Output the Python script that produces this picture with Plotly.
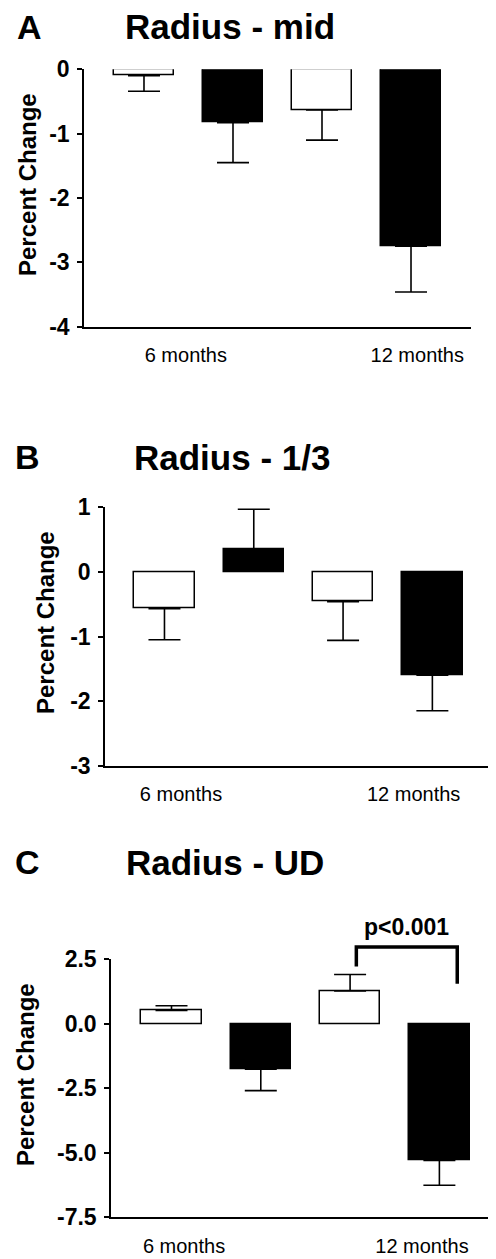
import plotly.graph_objects as go

# ---------------- data ----------------
categories = ["6 months", "12 months"]
panels = ["A", "B", "C"]
titles = ["Radius - mid", "Radius - 1/3", "Radius - UD"]

white_mid = [-0.10, -0.63]
white_mid_err = [0.24, 0.47]
black_mid = [-0.83, -2.75]
black_mid_err = [0.62, 0.71]

white_third = [-0.57, -0.46]
white_third_err = [0.48, 0.60]
black_third = [0.35, -1.60]
black_third_err = [0.62, 0.55]

white_ud = [0.52, 1.27]
white_ud_err = [0.18, 0.64]
black_ud = [-1.76, -5.30]
black_ud_err = [0.83, 0.96]

ytick_mid = [0, -1, -2, -3, -4]
ytick_mid_text = ["0", "-1", "-2", "-3", "-4"]
ytick_third = [1, 0, -1, -2, -3]
ytick_third_text = ["1", "0", "-1", "-2", "-3"]
ytick_ud = [2.5, 0.0, -2.5, -5.0, -7.5]
ytick_ud_text = ["2.5", "0.0", "-2.5", "-5.0", "-7.5"]
sig_label = "p<0.001"

# ---------------- layout ----------------
PAGE_W, PAGE_H = 496, 1259
OFF = 8  # default page margin of the html body
W, H = PAGE_W - OFF, PAGE_H - OFF
FONT = "Arial, 'Liberation Sans', Helvetica, sans-serif"


def fx(px):
    return (px - OFF) / W


def fy(py):
    return 1 - (py - OFF) / H


panel_cfg = [
    dict(white=white_mid, werr=white_mid_err, black=black_mid, berr=black_mid_err,
         ticks=ytick_mid, ttext=ytick_mid_text, left=84, right=471, top=69.3, bottom=326.7,
         xr=[0.326, 4.674], xt=[1.47, 4.07],
         letter=(29, 27), title=(230, 27), ylab=(27, 185)),
    dict(white=white_third, werr=white_third_err, black=black_third, berr=black_third_err,
         ticks=ytick_third, ttext=ytick_third_text, left=105, right=493, top=507.3, bottom=765.7,
         xr=[0.334, 4.679], xt=[1.185, 3.79],
         letter=(27, 457), title=(232, 457), ylab=(45, 623)),
    dict(white=white_ud, werr=white_ud_err, black=black_ud, berr=black_ud_err,
         ticks=ytick_ud, ttext=ytick_ud_text, left=111, right=496, top=959.3, bottom=1217.3,
         xr=[0.3225, 4.634], xt=[1.14, 3.805],
         letter=(27, 862), title=(225, 862), ylab=(25, 1075)),
]

fig = go.Figure()
annotations = []
shapes = []

for k, cfg in enumerate(panel_cfg):
    sfx = "" if k == 0 else str(k + 1)
    xa, ya = "x" + sfx, "y" + sfx
    for s, (vals, errs, col) in enumerate([(cfg["white"], cfg["werr"], "white"),
                                           (cfg["black"], cfg["berr"], "black")]):
        xs = [2 * i + 1 + s for i in range(len(categories))]
        plus = [e if v >= 0 else 0 for v, e in zip(vals, errs)]
        minus = [e if v < 0 else 0 for v, e in zip(vals, errs)]
        fig.add_trace(go.Bar(
            x=xs, y=vals, width=0.675, xaxis=xa, yaxis=ya,
            marker=dict(color=col, line=dict(color="black", width=1.5)),
            error_y=dict(type="data", symmetric=False, array=plus, arrayminus=minus,
                         color="black", thickness=1.6, width=16),
            showlegend=False, hoverinfo="skip"))

    lo, hi = min(cfg["ticks"]), max(cfg["ticks"])
    fig.layout["xaxis" + sfx] = dict(
        domain=[fx(cfg["left"]), min(1.0, fx(cfg["right"]))], range=cfg["xr"], anchor=ya,
        showline=True, linecolor="black", linewidth=1.5, showgrid=False, zeroline=False,
        tickvals=cfg["xt"], ticktext=categories, ticks="", ticklabelstandoff=10,
        automargin=False,
        tickfont=dict(family=FONT, size=20, color="black"), fixedrange=True)
    fig.layout["yaxis" + sfx] = dict(
        domain=[fy(cfg["bottom"]), fy(cfg["top"])], range=[lo, hi], anchor=xa,
        showline=True, linecolor="black", linewidth=1.5, showgrid=False, zeroline=False,
        tickvals=cfg["ticks"], ticktext=cfg["ttext"], ticks="outside", ticklen=5,
        tickwidth=1.5, tickcolor="black", ticklabelstandoff=3, automargin=False,
        tickfont=dict(family=FONT, size=23, color="black", weight="bold"), fixedrange=True)

    annotations.append(dict(text=panels[k], x=fx(cfg["letter"][0]), y=fy(cfg["letter"][1]),
                            xref="paper", yref="paper", showarrow=False,
                            xanchor="center", yanchor="middle",
                            font=dict(family=FONT, size=34, color="black", weight="bold")))
    annotations.append(dict(text=titles[k], x=fx(cfg["title"][0]), y=fy(cfg["title"][1]),
                            xref="paper", yref="paper", showarrow=False,
                            xanchor="center", yanchor="middle",
                            font=dict(family=FONT, size=35, color="black", weight="bold")))
    annotations.append(dict(text="Percent Change", x=fx(cfg["ylab"][0]), y=fy(cfg["ylab"][1]),
                            xref="paper", yref="paper", showarrow=False, textangle=-90,
                            xanchor="center", yanchor="middle",
                            font=dict(family=FONT, size=24, color="black", weight="bold")))


# significance bracket in panel C, expressed in C's data units, converted to paper
cC = panel_cfg[2]


def cx(v):
    d0, d1 = fx(cC["left"]), fx(cC["right"])
    return d0 + (v - cC["xr"][0]) / (cC["xr"][1] - cC["xr"][0]) * (d1 - d0)


def cy(v):
    d0, d1 = fy(cC["bottom"]), fy(cC["top"])
    lo, hi = min(cC["ticks"]), max(cC["ticks"])
    return d0 + (v - lo) / (hi - lo) * (d1 - d0)


br = [(3.07, 2.22), (3.07, 2.98), (4.2, 2.98), (4.2, 1.55)]
path = "M " + " L ".join(f"{cx(a):.5f} {cy(b):.5f}" for a, b in br)
shapes.append(dict(type="path", xref="paper", yref="paper", path=path,
                   line=dict(color="black", width=3.5)))
annotations.append(dict(text=sig_label, x=cx(3.63), y=cy(3.75), xref="paper", yref="paper",
                        showarrow=False, xanchor="center", yanchor="middle",
                        font=dict(family=FONT, size=23, color="black", weight="bold")))

fig.update_layout(width=W, height=H, margin=dict(l=0, r=0, t=0, b=0, autoexpand=False),
                  paper_bgcolor="white", plot_bgcolor="white", template="none",
                  annotations=annotations, shapes=shapes, bargap=0)
fig.write_html("out.html")
